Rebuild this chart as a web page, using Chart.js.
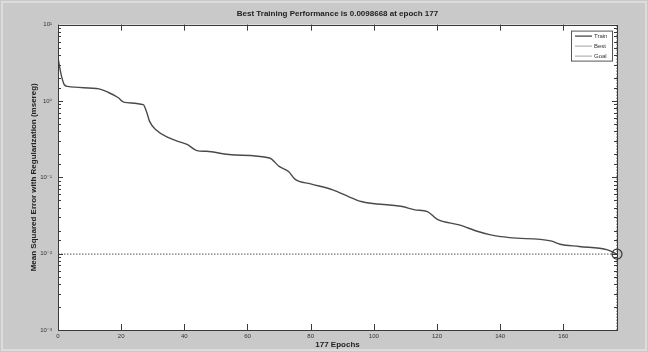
<!DOCTYPE html>
<html><head><meta charset="utf-8">
<script src="https://cdn.jsdelivr.net/npm/chart.js@4/dist/chart.umd.min.js"></script>
<style>html,body{margin:0;padding:0;background:#c9c9c9;overflow:hidden}canvas{display:block}</style>
</head><body>
<canvas id="c" width="648" height="352"></canvas>
<script>
// ---- data ----
const titleText = 'Best Training Performance is 0.0098668 at epoch 177';
const xTitle = '177 Epochs';
const yTitle = 'Mean Squared Error with Regularization (msereg)';
const epochs = [0,1,2,3,13,16,19,21,27,28,29,31,35,39,41,44,47,55,67,70,73,75,80,87,92,96,109,113,117,120,127,133,137,143,156,159,165,174,177];
const trainPerf = [3.69,2.21,1.63,1.55,1.44,1.29,1.11,0.957,0.893,0.73,0.54,0.42,0.33,0.286,0.267,0.224,0.219,0.197,0.179,0.139,0.119,0.0946,0.0822,0.0686,0.056,0.0482,0.0414,0.0375,0.0356,0.0283,0.0238,0.0195,0.0176,0.0162,0.0147,0.0133,0.0124,0.0112,0.0098668];
const bestEpoch = 177;
const bestPerf = 0.0098668;
const maxEpoch = 177;
const xTickValues = [0,20,40,60,80,100,120,140,160];
const yTickValues = [10,1,0.1,0.01,0.001];
const yTickLabels = ['10¹','10⁰','10⁻¹','10⁻²','10⁻³'];
const legendLabels = ['Train','Best','Goal'];

const FONT = "'Liberation Sans','DejaVu Sans',Arial,sans-serif";
const AXIS = '#3a3a3a';
const LINE = '#4a4a4a';

const trainData = epochs.map((e,i)=>({x:e,y:trainPerf[i]}));

function yLabelFor(v){
  for (let i=0;i<yTickValues.length;i++){
    if (Math.abs(Math.log10(v)-Math.log10(yTickValues[i]))<1e-6) return yTickLabels[i];
  }
  return '';
}

const decor = {
  id:'decor',
  beforeDraw(chart){
    const {ctx, chartArea:a} = chart;
    ctx.save();
    ctx.fillStyle = '#c9c9c9';
    ctx.fillRect(0,0,chart.width,chart.height);
    ctx.strokeStyle = '#dcdcdc'; ctx.lineWidth = 2;
    ctx.strokeRect(2,2,chart.width-4,chart.height-4);
    ctx.fillStyle = '#ffffff';
    ctx.fillRect(a.left,a.top,a.right-a.left,a.bottom-a.top);
    ctx.restore();
  },
  afterDatasetsDraw(chart){
    const {ctx, chartArea:a, scales} = chart;
    ctx.save();
    ctx.strokeStyle = AXIS; ctx.lineWidth = 1;
    ctx.beginPath();
    scales.y.ticks.forEach(t=>{
      const py = Math.round(scales.y.getPixelForValue(t.value))+0.5;
      const len = yLabelFor(t.value)?5:3;
      ctx.moveTo(a.left,py); ctx.lineTo(a.left+len,py);
      ctx.moveTo(a.right,py); ctx.lineTo(a.right-len,py);
    });
    scales.x.ticks.forEach(t=>{
      const px = Math.round(scales.x.getPixelForValue(t.value))+0.5;
      ctx.moveTo(px,a.bottom); ctx.lineTo(px,a.bottom-6);
      ctx.moveTo(px,a.top); ctx.lineTo(px,a.top+6);
    });
    ctx.stroke();
    ctx.strokeRect(Math.round(a.left)+0.5,Math.round(a.top)+0.5,Math.round(a.right-a.left),Math.round(a.bottom-a.top));
    ctx.restore();
  },
  afterDraw(chart){
    const {ctx, chartArea:a} = chart;
    const ds = chart.data.datasets;
    const bx = a.right-46, by = a.top+6, bw = 41, bh = 30;
    ctx.save();
    ctx.fillStyle = '#fff';
    ctx.fillRect(bx,by,bw,bh);
    ctx.strokeStyle = '#555'; ctx.lineWidth = 1;
    ctx.strokeRect(bx+0.5,by+0.5,bw,bh);
    ctx.font = '6px '+FONT;
    ctx.textBaseline = 'middle';
    legendLabels.forEach((lab,i)=>{
      const d = ds.find(s=>s.label===lab);
      const yy = by+5.5+i*10;
      ctx.beginPath();
      ctx.strokeStyle = i===0? LINE : '#8a8a8a';
      ctx.lineWidth = i===0? 1.3 : 0.8;
      ctx.moveTo(bx+4,yy); ctx.lineTo(bx+21,yy);
      ctx.stroke();
      ctx.fillStyle = '#333';
      ctx.fillText(d?d.label:lab,bx+23,yy);
    });
    ctx.restore();
  }
};

new Chart(document.getElementById('c'),{
  type:'line',
  data:{datasets:[
    {label:'Train', data:trainData, borderColor:LINE, borderWidth:1.4, pointRadius:0, cubicInterpolationMode:'monotone', fill:false},
    {label:'Best', data:[{x:0,y:bestPerf},{x:maxEpoch,y:bestPerf}], borderColor:'#555', borderWidth:1, borderDash:[1.5,1.5], pointRadius:0},
    {label:'BestV', data:[{x:bestEpoch,y:0.001},{x:bestEpoch,y:10}], borderColor:'#555', borderWidth:1, borderDash:[1.5,1.5], pointRadius:0},
    {label:'BestMark', data:[{x:bestEpoch,y:bestPerf}], showLine:false, pointRadius:5, pointBorderWidth:1.2, pointBorderColor:'#333', pointBackgroundColor:'rgba(0,0,0,0)', clip:false},
    {label:'Goal', data:[], borderColor:'#888', borderWidth:1, pointRadius:0}
  ]},
  options:{
    responsive:false, animation:false, devicePixelRatio:1,
    layout:{padding:{left:29,right:31,top:0,bottom:0}},
    plugins:{
      legend:{display:false},
      tooltip:{enabled:false},
      title:{display:true, text:titleText, fullSize:false, color:'#222', font:{family:FONT,size:8,weight:'bold'}, padding:{top:9,bottom:6}}
    },
    scales:{
      x:{type:'linear', min:0, max:maxEpoch,
        afterBuildTicks:s=>{s.ticks = xTickValues.map(v=>({value:v}));},
        afterFit:s=>{s.height=22;},
        ticks:{font:{family:FONT,size:6}, color:'#333', padding:3, maxRotation:0, autoSkip:false, includeBounds:false},
        grid:{display:false, drawTicks:false}, border:{display:false},
        title:{display:true, text:xTitle, color:'#222', font:{family:FONT,size:8,weight:'bold'}, padding:{top:0,bottom:2}}
      },
      y:{type:'logarithmic', min:0.001, max:10,
        afterFit:s=>{s.width=29;},
        ticks:{font:{family:FONT,size:6}, color:'#333', padding:6, autoSkip:false, callback:(v)=>yLabelFor(v)},
        grid:{display:false, drawTicks:false}, border:{display:false},
        title:{display:true, text:yTitle, color:'#222', font:{family:FONT,size:8,weight:'bold'}, padding:{top:0,bottom:0}}
      }
    }
  },
  plugins:[decor]
});
</script>
</body></html>
